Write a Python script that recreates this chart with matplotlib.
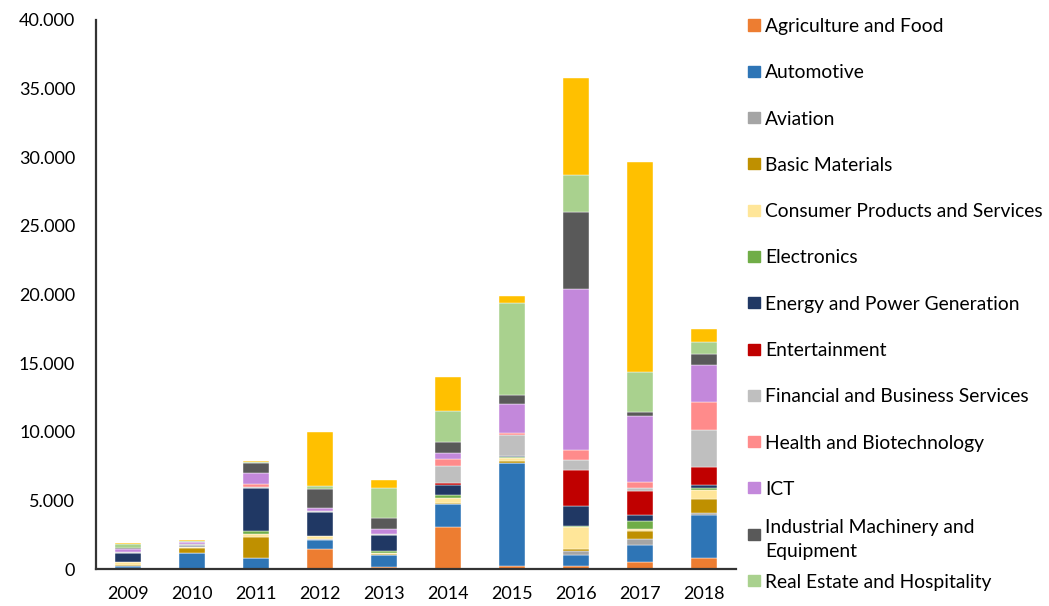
import matplotlib
matplotlib.use('Agg')
import numpy as np
import matplotlib.pyplot as plt
from matplotlib.patches import Rectangle

plt.rcParams['font.family'] = ['Lato', 'DejaVu Sans']

# ---------------------------------------------------------------
# Data: Chinese FDI by sector (EUR million)
# ---------------------------------------------------------------
years = ['2009', '2010', '2011', '2012', '2013', '2014', '2015', '2016', '2017', '2018']

sectors = ['Agriculture and Food', 'Automotive', 'Aviation', 'Basic Materials',
           'Consumer Products and Services', 'Electronics', 'Energy and Power Generation',
           'Entertainment', 'Financial and Business Services', 'Health and Biotechnology',
           'ICT', 'Industrial Machinery and\nEquipment', 'Real Estate and Hospitality',
           'Transport, Utilities and Infrastructure']

agriculture   = [50, 0, 0, 1460, 120, 3090, 190, 240, 530, 800]
automotive    = [150, 1170, 800, 680, 870, 1650, 7510, 800, 1240, 3110]
aviation      = [50, 30, 40, 20, 20, 30, 30, 240, 440, 190]
basic         = [80, 340, 1510, 30, 80, 30, 150, 150, 530, 1020]
consumer      = [150, 60, 190, 190, 100, 390, 240, 1600, 150, 660]
electronics   = [30, 20, 240, 20, 110, 220, 20, 120, 580, 150]
energy        = [680, 80, 3090, 1750, 1170, 700, 100, 1430, 440, 190]
entertainment = [0, 0, 0, 0, 0, 150, 20, 2620, 1800, 1290]
financial     = [30, 120, 120, 60, 50, 1260, 1480, 750, 190, 2720]
health        = [20, 30, 190, 40, 20, 530, 170, 700, 440, 2070]
ict           = [220, 100, 800, 190, 360, 440, 2090, 11780, 4790, 2650]
industrial    = [50, 50, 780, 1410, 800, 730, 660, 5590, 290, 850]
real_estate   = [340, 40, 50, 220, 2190, 2310, 6700, 2670, 2920, 870]
transport     = [70, 70, 60, 3910, 610, 2450, 510, 7120, 15310, 900]

series = [agriculture, automotive, aviation, basic, consumer, electronics, energy,
          entertainment, financial, health, ict, industrial, real_estate, transport]

colors = ['#ED7D31', '#2E75B6', '#A5A5A5', '#BF9000', '#FFE699', '#70AD47', '#203864',
          '#C00000', '#BFBFBF', '#FF8B8B', '#C388DB', '#595959', '#A9D18E', '#FFC000']

# ---------------------------------------------------------------
# Plot
# ---------------------------------------------------------------
fig = plt.figure(figsize=(10.49, 6.06), dpi=100, facecolor='white')
ax = fig.add_axes([0.0915, 0.061, 0.61, 0.906])

x = np.arange(len(years))
bottom = np.zeros(len(years))
for vals, col in zip(series, colors):
    vals = np.array(vals, dtype=float)
    ax.bar(x, vals, width=0.41, bottom=bottom, color=col,
           edgecolor='white', linewidth=0.3)
    bottom += vals

ax.set_xlim(-0.5, len(years) - 0.5)
ax.set_ylim(0, 40000)
ax.set_xticks(x)
ax.set_xticklabels(years)
ax.set_yticks(np.arange(0, 40001, 5000))
ax.set_yticklabels([f"{v:,.0f}".replace(',', '.') for v in np.arange(0, 40001, 5000)])
ax.tick_params(axis='both', length=0, labelsize=13, colors='black')
ax.tick_params(axis='y', pad=15)
ax.tick_params(axis='x', pad=12)

for side in ['top', 'right']:
    ax.spines[side].set_visible(False)
for side in ['left', 'bottom']:
    ax.spines[side].set_color('#333333')
    ax.spines[side].set_linewidth(1.6)

# Legend drawn by hand (the last entry falls off the page in the original)
W, H = 1049, 606
lx, ly, dy = 748 / W, 1 - 25 / H, 46.3 / H
for i, (name, col) in enumerate(zip(sectors[:13], colors[:13])):
    yy = ly - i * dy
    fig.patches.append(Rectangle((lx, yy - 5.5 / H), 12 / W, 11 / H,
                                 transform=fig.transFigure, color=col))
    fig.text(765 / W, yy, name, fontsize=13.9, va='center_baseline',
             ha='left', linespacing=1.55)

plt.savefig('out.png', dpi=100, facecolor='white')
